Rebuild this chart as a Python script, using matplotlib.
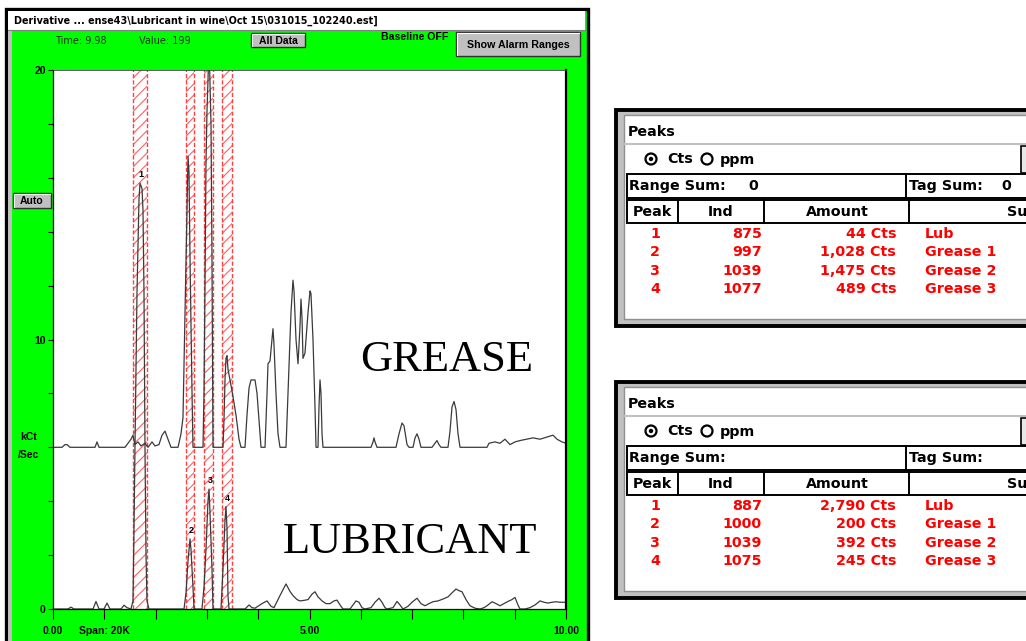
import matplotlib
matplotlib.use("Agg")
import matplotlib.pyplot as plt
from matplotlib.patches import Rectangle, Circle
import numpy as np

W, H = 1026, 641

# detector traces (x: time 0-10, y: kCt/s)
GREASE_X = [0.00, 0.175, 0.234, 0.273, 0.331, 0.819, 0.858, 0.897, 1.404, 1.462,
            1.520, 1.559, 1.598, 1.657, 1.715, 1.793, 1.852, 1.930, 1.988, 2.066,
            2.125, 2.183, 2.242, 2.300, 2.437, 2.495, 2.534, 2.573, 2.612, 2.632,
            2.651, 2.671, 2.710, 2.729, 2.924, 2.943, 2.963, 2.982, 3.002, 3.021,
            3.041, 3.060, 3.080, 3.099, 3.119, 3.314, 3.333, 3.353, 3.372, 3.392,
            3.411, 3.489, 3.567, 3.626, 3.665, 3.743, 3.782, 3.821, 3.860, 3.938,
            3.977, 4.016, 4.055, 4.133, 4.172, 4.191, 4.230, 4.269, 4.288, 4.308,
            4.347, 4.386, 4.425, 4.542, 4.581, 4.639, 4.678, 4.698, 4.737, 4.776,
            4.815, 4.834, 4.854, 4.873, 4.912, 4.971, 5.010, 5.029, 5.068, 5.107,
            5.127, 5.166, 5.185, 5.205, 5.224, 5.244, 5.263, 6.199, 6.238, 6.257,
            6.277, 6.316, 6.686, 6.745, 6.803, 6.842, 6.901, 6.940, 7.018, 7.057,
            7.096, 7.135, 7.173, 7.388, 7.446, 7.485, 7.524, 7.563, 7.700, 7.739,
            7.778, 7.817, 7.856, 7.895, 7.934, 8.460, 8.499, 8.616, 8.713, 8.811,
            8.908, 9.006, 9.103, 9.357, 9.493, 9.747, 9.825, 9.922, 10.0]
GREASE_Y = [6.0, 6.0, 6.1, 6.1, 6.0, 6.0, 6.2, 6.0, 6.0, 6.15,
            6.3, 6.45, 6.1, 6.2, 6.05, 6.15, 6.0, 6.2, 6.05, 6.1,
            6.45, 6.6, 6.3, 6.0, 6.0, 6.5, 7.1, 11.0, 15.0, 16.8,
            16.2, 13.0, 8.0, 6.0, 6.0, 8.0, 12.0, 16.5, 18.5, 19.6,
            21.0, 19.5, 18.0, 13.0, 6.0, 6.0, 7.0, 8.5, 9.3, 9.4,
            8.9, 8.1, 7.2, 6.3, 6.0, 6.0, 7.2, 8.2, 8.5, 8.5,
            8.0, 7.0, 6.0, 6.0, 8.0, 9.1, 9.2, 10.0, 10.4, 9.8,
            8.0, 6.5, 6.0, 6.0, 8.0, 11.0, 12.2, 11.8, 10.0, 9.1,
            10.5, 11.5, 10.8, 9.3, 9.5, 11.0, 11.8, 11.7, 10.0, 7.5,
            6.0, 6.0, 7.5, 8.5, 8.0, 6.5, 6.0, 6.0, 6.2, 6.35,
            6.2, 6.0, 6.0, 6.5, 6.9, 6.8, 6.1, 6.0, 6.0, 6.35,
            6.5, 6.3, 6.0, 6.0, 6.15, 6.25, 6.1, 6.0, 6.0, 6.6,
            7.5, 7.7, 7.4, 6.5, 6.0, 6.0, 6.15, 6.2, 6.15, 6.3,
            6.1, 6.2, 6.25, 6.35, 6.3, 6.45, 6.3, 6.2, 6.15]

LUB_X = [0.00, 0.292, 0.351, 0.409, 0.780, 0.838, 0.897, 0.994, 1.053, 1.111,
         1.326, 1.384, 1.442, 1.520, 1.559, 1.579, 1.598, 1.637, 1.676, 1.696,
         1.735, 1.754, 1.774, 1.793, 1.813, 1.832, 1.871, 2.554, 2.593, 2.632,
         2.671, 2.690, 2.729, 2.749, 2.904, 2.943, 2.982, 3.021, 3.041, 3.060,
         3.099, 3.119, 3.275, 3.314, 3.353, 3.372, 3.392, 3.411, 3.431, 3.743,
         3.821, 3.879, 3.938, 4.074, 4.172, 4.250, 4.308, 4.425, 4.542, 4.620,
         4.678, 4.756, 4.815, 4.893, 4.971, 5.049, 5.107, 5.166, 5.244, 5.322,
         5.400, 5.478, 5.536, 5.595, 5.653, 5.789, 5.848, 5.906, 5.965, 6.023,
         6.082, 6.199, 6.277, 6.355, 6.413, 6.472, 6.511, 6.628, 6.706, 6.764,
         6.823, 6.920, 6.998, 7.096, 7.173, 7.251, 7.329, 7.407, 7.505, 7.602,
         7.700, 7.778, 7.856, 7.914, 7.973, 8.051, 8.129, 8.226, 8.324, 8.402,
         8.460, 8.558, 8.635, 8.713, 8.791, 8.869, 8.947, 9.006, 9.064, 9.103,
         9.201, 9.298, 9.396, 9.493, 9.571, 9.649, 9.727, 9.805, 9.883, 10.0]
LUB_Y = [0.0, 0.0, 0.07, 0.0, 0.0, 0.28, 0.0, 0.0, 0.22, 0.0,
         0.0, 0.14, 0.05, 0.0, 0.3, 3.0, 6.0, 11.7, 15.2, 15.8,
         15.6, 14.8, 11.7, 6.0, 2.0, 0.3, 0.0, 0.0, 0.6, 1.8,
         2.6, 2.2, 0.8, 0.0, 0.0, 0.8, 2.2, 4.0, 4.45, 3.6,
         1.5, 0.0, 0.0, 1.5, 3.3, 3.8, 3.0, 0.5, 0.0, 0.0,
         0.15, 0.05, 0.03, 0.2, 0.3, 0.1, 0.05, 0.5, 0.93, 0.65,
         0.5, 0.35, 0.3, 0.32, 0.35, 0.55, 0.64, 0.45, 0.3, 0.2,
         0.2, 0.3, 0.33, 0.15, 0.0, 0.0, 0.15, 0.3, 0.25, 0.05,
         0.0, 0.05, 0.25, 0.4, 0.25, 0.05, 0.0, 0.05, 0.28, 0.15,
         0.0, 0.1, 0.25, 0.4, 0.2, 0.12, 0.2, 0.27, 0.3, 0.37,
         0.45, 0.6, 0.74, 0.68, 0.64, 0.35, 0.12, 0.03, 0.0, 0.05,
         0.12, 0.27, 0.2, 0.12, 0.2, 0.28, 0.35, 0.43, 0.15, 0.0,
         0.0, 0.05, 0.15, 0.3, 0.25, 0.22, 0.25, 0.27, 0.25, 0.25]

# alarm (peak integration) ranges
ALARM_START = [1.56, 2.59, 2.94, 3.29]
ALARM_END = [1.83, 2.75, 3.12, 3.49]
PEAK_IDS = ["1", "2", "3", "4"]

# peaks tables
PEAK_NAMES = ["Lub", "Grease 1", "Grease 2", "Grease 3"]
GREASE_IND = [875, 997, 1039, 1077]
GREASE_AMOUNT = [44, 1028, 1475, 489]
LUB_IND = [887, 1000, 1039, 1075]
LUB_AMOUNT = [2790, 200, 392, 245]

SANS = "Liberation Sans"
TABLE_FONT = "DejaVu Sans"
SERIF = "Liberation Serif"
GREEN = "#00ff00"
BTN = "#c0c0c0"
RED = "#ff0000"


def button(bg, x0, y0, x1, y1, label, size=7.5):
    bg.add_patch(Rectangle((x0, y0), x1 - x0, y1 - y0, fc=BTN, ec="#303030", lw=1.0))
    bg.plot([x0 + 1, x0 + 1, x1 - 1], [y1 - 1, y0 + 1, y0 + 1], color="white", lw=0.8)
    bg.text((x0 + x1) / 2, (y0 + y1) / 2 + 0.5, label, ha="center", va="center",
            fontsize=size, fontweight="bold", family=SANS)


def peaks_panel(bg, top, range_sum, tag_sum, ind, amount):
    bg.add_patch(Rectangle((616, top), 430, 216, fc=BTN, ec="black", lw=2.8))
    bg.add_patch(Rectangle((624, top + 5), 420, 204, fc="white", ec="#909090", lw=1.0))
    tk = dict(family=TABLE_FONT, fontweight="bold", fontsize=10.3, va="center")
    bg.text(628, top + 22, "Peaks", ha="left", **tk)
    bg.plot([625, 1030], [top + 34, top + 34], color=BTN, lw=1.5)
    bg.add_patch(Circle((651, top + 49), 5.5, fc="white", ec="black", lw=1.6))
    bg.add_patch(Circle((651, top + 49), 2.2, fc="black", ec="none"))
    bg.text(667, top + 49, "Cts", ha="left", **tk)
    bg.add_patch(Circle((707, top + 49), 5.5, fc="white", ec="black", lw=1.6))
    bg.text(720, top + 50, "ppm", ha="left", **tk)
    bg.add_patch(Rectangle((1021, top + 36), 12, 27, fc="#e8e8e8", ec="black", lw=1.2))
    # range / tag sums
    bg.add_patch(Rectangle((627, top + 64), 420, 24, fc="white", ec="black", lw=1.4))
    bg.plot([906, 906], [top + 64, top + 88], color="black", lw=1.4)
    bg.text(629, top + 76, "Range Sum:", ha="left", **tk)
    bg.text(753, top + 76, range_sum, ha="center", **tk)
    bg.text(909, top + 76, "Tag Sum:", ha="left", **tk)
    bg.text(1006, top + 76, tag_sum, ha="center", **tk)
    # header (last column is cut by the screenshot edge)
    bg.add_patch(Rectangle((627, top + 90), 420, 23, fc="white", ec="black", lw=1.4))
    for xd in [678, 764, 909]:
        bg.plot([xd, xd], [top + 90, top + 113], color="black", lw=1.4)
    bg.text(652, top + 102, "Peak", ha="center", **tk)
    bg.text(721, top + 102, "Ind", ha="center", **tk)
    bg.text(837, top + 102, "Amount", ha="center", **tk)
    bg.text(1007, top + 102, "Su", ha="left", **tk)
    # rows
    rk = dict(tk, color=RED)
    for i, (pid, iv, av, nm) in enumerate(zip(PEAK_IDS, ind, amount, PEAK_NAMES)):
        yy = top + 124 + i * 18.4
        bg.text(655, yy, pid, ha="center", **rk)
        bg.text(762, yy, f"{iv}", ha="right", **rk)
        bg.text(896, yy, f"{av:,} Cts", ha="right", **rk)
        bg.text(925, yy, nm, ha="left", **rk)


def main() -> None:
    plt.rcParams["hatch.linewidth"] = 0.8
    plt.rcParams["hatch.color"] = "#ff5050"

    fig = plt.figure(figsize=(W / 100, H / 100), dpi=100)
    fig.patch.set_facecolor("white")

    bg = fig.add_axes([0, 0, 1, 1], zorder=0)
    bg.set_xlim(0, W)
    bg.set_ylim(H, 0)
    bg.axis("off")

    # instrument window
    bg.add_patch(Rectangle((6, 9), 582, 640, fc=GREEN, ec="black", lw=2.4))
    bg.add_patch(Rectangle((8, 11), 577, 19, fc="white", ec="none"))
    bg.plot([8, 585], [30, 30], color="#808080", lw=0.8)
    bg.add_patch(Rectangle((8, 31), 4, 612, fc=BTN, ec="none"))
    bg.text(14, 21, r"Derivative ... ense43\Lubricant in wine\Oct 15\031015_102240.est]",
            ha="left", va="center", fontsize=6.9, fontweight="bold", family=TABLE_FONT)
    bg.text(55, 40.5, "Time: 9.98", ha="left", va="center", fontsize=7, family=TABLE_FONT,
            color="#203020")
    bg.text(139, 40.5, "Value: 199", ha="left", va="center", fontsize=7, family=TABLE_FONT,
            color="#203020")
    button(bg, 251, 33, 305, 47, "All Data")
    bg.text(381, 37.5, "Baseline OFF", ha="left", va="center", fontsize=7.6,
            fontweight="bold", family=SANS)
    button(bg, 456, 32, 580, 56, "Show Alarm Ranges", size=7.7)
    button(bg, 13, 193, 51, 208, "Auto")
    bg.text(29, 437, "kCt", ha="center", va="center", fontsize=7.5, fontweight="bold", family=SANS)
    bg.text(29, 455, "/Sec", ha="center", va="center", fontsize=7.5, fontweight="bold", family=SANS)
    bg.text(79, 631, "Span: 20K", ha="left", va="center", fontsize=7.5, fontweight="bold",
            family=SANS)

    # plot area
    left, right, top, bottom = 53, 566, 70, 609
    ax = fig.add_axes([left / W, 1 - bottom / H, (right - left) / W, (bottom - top) / H], zorder=2)
    ax.set_facecolor("white")
    ax.set_xlim(0, 10)
    ax.set_ylim(0, 20)

    for x0, x1 in zip(ALARM_START, ALARM_END):
        ax.axvspan(x0, x1, facecolor="none", edgecolor="#ff6060", hatch="///", linewidth=0)
        for xv in (x0, x1):
            ax.axvline(xv, color="#ff4040", ls=(0, (3, 1.5)), lw=1.0)

    ax.plot(GREASE_X, GREASE_Y, color="#3a3a3a", lw=0.9)
    ax.plot(LUB_X, LUB_Y, color="#3a3a3a", lw=0.9)

    lx = np.asarray(LUB_X)
    ly = np.asarray(LUB_Y)
    for pid, x0, x1 in zip(PEAK_IDS, ALARM_START, ALARM_END):
        m = (lx >= x0) & (lx <= x1)
        k = np.argmax(np.where(m, ly, -1))
        ax.text(lx[k] + 0.02, ly[k] + 0.15, pid, ha="center", va="bottom", fontsize=6.5,
                fontweight="bold", family=SANS)

    ax.text(7.68, 9.25, "GREASE", ha="center", va="center", fontsize=32, family=SERIF)
    ax.text(6.95, 2.5, "LUBRICANT", ha="center", va="center", fontsize=32, family=SERIF)

    ax.set_xticks(np.arange(0, 11, 1))
    ax.set_xticklabels(["0.00", "", "", "", "", "5.00", "", "", "", "", "10.00"])
    ax.set_yticks(np.arange(0, 21, 2))
    ax.set_yticklabels(["0", "", "", "", "", "10", "", "", "", "", "20"])
    ax.tick_params(axis="x", direction="out", length=7, width=0.8, pad=5)
    ax.tick_params(axis="y", direction="out", length=3.8, width=0.8, pad=1.5)
    for lab in ax.get_xticklabels() + ax.get_yticklabels():
        lab.set_fontsize(7.5)
        lab.set_fontweight("bold")
        lab.set_family(SANS)
    for side in ("left", "bottom"):
        ax.spines[side].set_linewidth(0.9)
    ax.spines["top"].set_linewidth(0.6)
    ax.spines["top"].set_color("#404040")
    ax.spines["right"].set_linewidth(1.6)

    # peaks tables on the right
    peaks_panel(bg, 110, "0", "0", GREASE_IND, GREASE_AMOUNT)
    peaks_panel(bg, 382, "", "", LUB_IND, LUB_AMOUNT)

    fig.savefig("out.png", dpi=100, facecolor="white")
    plt.close(fig)


if __name__ == "__main__":
    main()
